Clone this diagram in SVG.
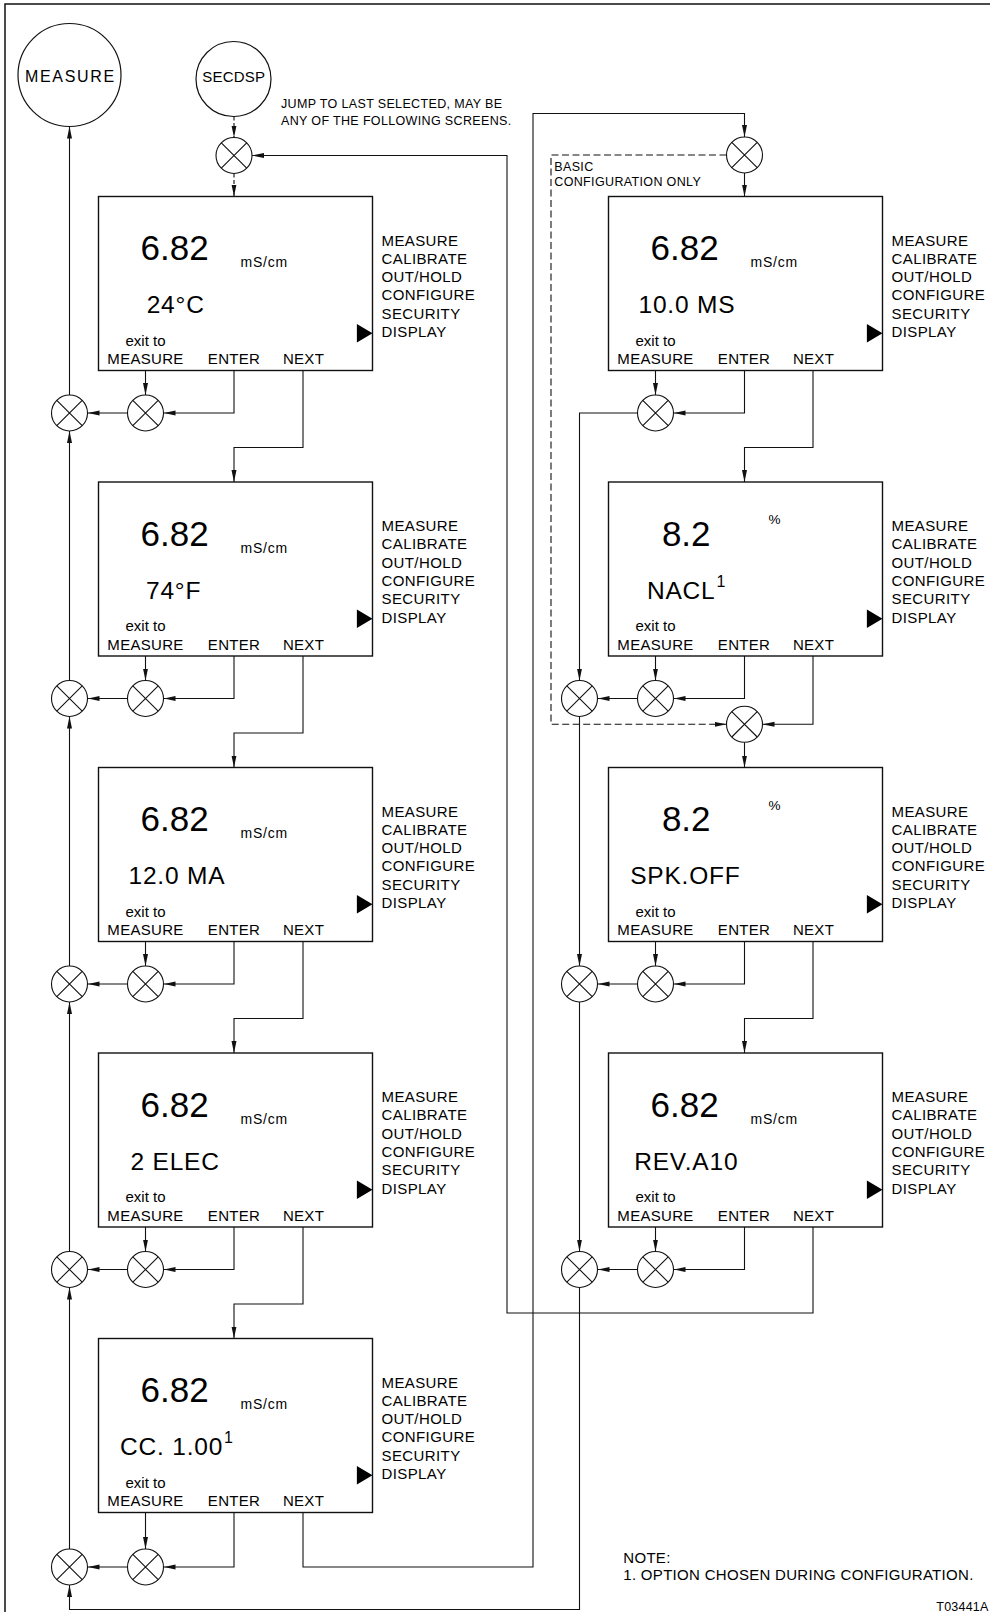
<svg xmlns="http://www.w3.org/2000/svg" width="990" height="1612" viewBox="0 0 990 1612">
<defs>
<style>
text{font-family:"Liberation Sans",Arial,sans-serif;fill:#000}
.frame{fill:none;stroke:#111;stroke-width:1.5}
.bx{fill:#fff;stroke:#111;stroke-width:1.4}
.cn{fill:none;stroke:#111;stroke-width:1.1}
.ds{stroke-dasharray:4 2.5}
.dl{stroke-dasharray:7 3.5}
.xc circle{fill:#fff;stroke:#111;stroke-width:1.1}
.xc path{fill:none;stroke:#111;stroke-width:1.1}
.tc circle{fill:#fff;stroke:#111;stroke-width:1.2}
.tri{fill:#000}
.big{font-size:35px}
.unit{font-size:14px;letter-spacing:0.8px}
.pct{font-size:13.5px}
.sec{font-size:24.5px;letter-spacing:0.8px}
.sup{font-size:16px}
.exit{font-size:15px;text-anchor:middle}
.lbl{font-size:15px;letter-spacing:0.3px;text-anchor:middle}
.menu{font-size:15px;letter-spacing:0.4px}
.note{font-size:12.5px;letter-spacing:0.35px}
.nt{font-size:15px;letter-spacing:0.3px}
.circ{font-size:15px;text-anchor:middle}
</style>
<marker id="ah" viewBox="0 0 12 6" markerWidth="12" markerHeight="6" refX="12" refY="3" orient="auto" markerUnits="userSpaceOnUse"><path d="M0,0.5L12,3L0,5.5z" fill="#111"/></marker>
</defs>
<rect width="990" height="1612" fill="#fff"/>
<path class="frame" d="M5,1612V4H990"/>

<g id="connectors">
<path class="cn ds" d="M234,116.5V137.5" marker-end="url(#ah)"/>
<path class="cn ds" d="M234,173.5V196.5" marker-end="url(#ah)"/>
<path class="cn" d="M69.5,395V126.5" marker-end="url(#ah)"/>
<path class="cn" d="M69.5,680.5V431" marker-end="url(#ah)"/>
<path class="cn" d="M69.5,966V716.5" marker-end="url(#ah)"/>
<path class="cn" d="M69.5,1251.5V1002" marker-end="url(#ah)"/>
<path class="cn" d="M69.5,1549V1287.5" marker-end="url(#ah)"/>
<path class="cn" d="M145.5,370.5V395" marker-end="url(#ah)"/>
<path class="cn" d="M234,370.5V413H163.5" marker-end="url(#ah)"/>
<path class="cn" d="M127.5,413H87.5" marker-end="url(#ah)"/>
<path class="cn" d="M145.5,656V680.5" marker-end="url(#ah)"/>
<path class="cn" d="M234,656V698.5H163.5" marker-end="url(#ah)"/>
<path class="cn" d="M127.5,698.5H87.5" marker-end="url(#ah)"/>
<path class="cn" d="M145.5,941.5V966" marker-end="url(#ah)"/>
<path class="cn" d="M234,941.5V984H163.5" marker-end="url(#ah)"/>
<path class="cn" d="M127.5,984H87.5" marker-end="url(#ah)"/>
<path class="cn" d="M145.5,1227V1251.5" marker-end="url(#ah)"/>
<path class="cn" d="M234,1227V1269.5H163.5" marker-end="url(#ah)"/>
<path class="cn" d="M127.5,1269.5H87.5" marker-end="url(#ah)"/>
<path class="cn" d="M145.5,1512.5V1549" marker-end="url(#ah)"/>
<path class="cn" d="M234,1512.5V1567H163.5" marker-end="url(#ah)"/>
<path class="cn" d="M127.5,1567H87.5" marker-end="url(#ah)"/>
<path class="cn" d="M303,370.5V447.5H234V482" marker-end="url(#ah)"/>
<path class="cn" d="M303,656V733H234V767.5" marker-end="url(#ah)"/>
<path class="cn" d="M303,941.5V1018.5H234V1053" marker-end="url(#ah)"/>
<path class="cn" d="M303,1227V1304H234V1338.5" marker-end="url(#ah)"/>
<path class="cn" d="M303,1512.5V1567H533V113.5H744.5V137" marker-end="url(#ah)"/>
<path class="cn" d="M744.5,173V196.5" marker-end="url(#ah)"/>
<path class="cn dl" d="M726.5,155H551V724.3H726.5" marker-end="url(#ah)"/>
<path class="cn" d="M655.5,370.5V395" marker-end="url(#ah)"/>
<path class="cn" d="M744.5,370.5V413H673.5" marker-end="url(#ah)"/>
<path class="cn" d="M637.5,413H579.5V680.5" marker-end="url(#ah)"/>
<path class="cn" d="M813,370.5V447.5H744.5V482" marker-end="url(#ah)"/>
<path class="cn" d="M655.5,656V680.5" marker-end="url(#ah)"/>
<path class="cn" d="M744.5,656V698.5H673.5" marker-end="url(#ah)"/>
<path class="cn" d="M637.5,698.5H597.5" marker-end="url(#ah)"/>
<path class="cn" d="M813,656V724.3H762.5" marker-end="url(#ah)"/>
<path class="cn" d="M744.5,742.3V767.5" marker-end="url(#ah)"/>
<path class="cn" d="M655.5,941.5V966" marker-end="url(#ah)"/>
<path class="cn" d="M744.5,941.5V984H673.5" marker-end="url(#ah)"/>
<path class="cn" d="M637.5,984H597.5" marker-end="url(#ah)"/>
<path class="cn" d="M813,941.5V1018.5H744.5V1053" marker-end="url(#ah)"/>
<path class="cn" d="M655.5,1227V1251.5" marker-end="url(#ah)"/>
<path class="cn" d="M744.5,1227V1269.5H673.5" marker-end="url(#ah)"/>
<path class="cn" d="M637.5,1269.5H597.5" marker-end="url(#ah)"/>
<path class="cn" d="M813,1227V1313H507V155.5H252" marker-end="url(#ah)"/>
<path class="cn" d="M579.5,716.5V966" marker-end="url(#ah)"/>
<path class="cn" d="M579.5,1002V1251.5" marker-end="url(#ah)"/>
<path class="cn" d="M579.5,1287.5V1609.5H69.5V1585" marker-end="url(#ah)"/>
</g>

<g id="measure" class="tc"><circle cx="69.5" cy="75" r="51.5"/><text class="circ" x="70.4" y="81.7" style="font-size:16px;letter-spacing:1.7px">MEASURE</text></g>
<g id="secdsp" class="tc"><circle cx="233.5" cy="79" r="37.5"/><text class="circ" x="233.8" y="81.7" style="letter-spacing:0.2px">SECDSP</text></g>

<text class="note" x="281" y="108">JUMP TO LAST SELECTED, MAY BE</text>
<text class="note" x="281" y="124.5">ANY OF THE FOLLOWING SCREENS.</text>
<text class="note" x="554.3" y="170.7">BASIC</text>
<text class="note" x="554.3" y="185.7">CONFIGURATION ONLY</text>

<g id="x-top-left" class="xc" transform="translate(234,155.5)"><circle r="18"/><path d="M-12.7-12.7L12.7 12.7M-12.7 12.7L12.7-12.7"/></g>
<g id="x-top-right" class="xc" transform="translate(744.5,155)"><circle r="18"/><path d="M-12.7-12.7L12.7 12.7M-12.7 12.7L12.7-12.7"/></g>
<g id="x-L1-exit" class="xc" transform="translate(69.5,413)"><circle r="18"/><path d="M-12.7-12.7L12.7 12.7M-12.7 12.7L12.7-12.7"/></g>
<g id="x-L1-meas" class="xc" transform="translate(145.5,413)"><circle r="18"/><path d="M-12.7-12.7L12.7 12.7M-12.7 12.7L12.7-12.7"/></g>
<g id="x-L2-exit" class="xc" transform="translate(69.5,698.5)"><circle r="18"/><path d="M-12.7-12.7L12.7 12.7M-12.7 12.7L12.7-12.7"/></g>
<g id="x-L2-meas" class="xc" transform="translate(145.5,698.5)"><circle r="18"/><path d="M-12.7-12.7L12.7 12.7M-12.7 12.7L12.7-12.7"/></g>
<g id="x-L3-exit" class="xc" transform="translate(69.5,984)"><circle r="18"/><path d="M-12.7-12.7L12.7 12.7M-12.7 12.7L12.7-12.7"/></g>
<g id="x-L3-meas" class="xc" transform="translate(145.5,984)"><circle r="18"/><path d="M-12.7-12.7L12.7 12.7M-12.7 12.7L12.7-12.7"/></g>
<g id="x-L4-exit" class="xc" transform="translate(69.5,1269.5)"><circle r="18"/><path d="M-12.7-12.7L12.7 12.7M-12.7 12.7L12.7-12.7"/></g>
<g id="x-L4-meas" class="xc" transform="translate(145.5,1269.5)"><circle r="18"/><path d="M-12.7-12.7L12.7 12.7M-12.7 12.7L12.7-12.7"/></g>
<g id="x-L5-exit" class="xc" transform="translate(69.5,1567)"><circle r="18"/><path d="M-12.7-12.7L12.7 12.7M-12.7 12.7L12.7-12.7"/></g>
<g id="x-L5-meas" class="xc" transform="translate(145.5,1567)"><circle r="18"/><path d="M-12.7-12.7L12.7 12.7M-12.7 12.7L12.7-12.7"/></g>
<g id="x-R1-meas" class="xc" transform="translate(655.5,413)"><circle r="18"/><path d="M-12.7-12.7L12.7 12.7M-12.7 12.7L12.7-12.7"/></g>
<g id="x-R2-exit" class="xc" transform="translate(579.5,698.5)"><circle r="18"/><path d="M-12.7-12.7L12.7 12.7M-12.7 12.7L12.7-12.7"/></g>
<g id="x-R2-meas" class="xc" transform="translate(655.5,698.5)"><circle r="18"/><path d="M-12.7-12.7L12.7 12.7M-12.7 12.7L12.7-12.7"/></g>
<g id="x-R2-next" class="xc" transform="translate(744.5,724.3)"><circle r="18"/><path d="M-12.7-12.7L12.7 12.7M-12.7 12.7L12.7-12.7"/></g>
<g id="x-R3-exit" class="xc" transform="translate(579.5,984)"><circle r="18"/><path d="M-12.7-12.7L12.7 12.7M-12.7 12.7L12.7-12.7"/></g>
<g id="x-R3-meas" class="xc" transform="translate(655.5,984)"><circle r="18"/><path d="M-12.7-12.7L12.7 12.7M-12.7 12.7L12.7-12.7"/></g>
<g id="x-R4-exit" class="xc" transform="translate(579.5,1269.5)"><circle r="18"/><path d="M-12.7-12.7L12.7 12.7M-12.7 12.7L12.7-12.7"/></g>
<g id="x-R4-meas" class="xc" transform="translate(655.5,1269.5)"><circle r="18"/><path d="M-12.7-12.7L12.7 12.7M-12.7 12.7L12.7-12.7"/></g>

<g id="screen-temp-c" transform="translate(98.5,196.5)">
<rect class="bx" width="274" height="174"/>
<text class="big" x="42" y="63.5">6.82</text><text class="unit" x="142" y="70.6">mS/cm</text>
<text class="sec" x="48.2" y="116.7">24°C</text>
<text class="exit" x="47" y="149">exit to</text>
<text class="lbl" x="47" y="167.5">MEASURE</text><text class="lbl" x="135.5" y="167.5">ENTER</text><text class="lbl" x="205" y="167.5">NEXT</text>
<text class="menu" y="49"><tspan x="283">MEASURE</tspan><tspan x="283" dy="18.3">CALIBRATE</tspan><tspan x="283" dy="18.3">OUT/HOLD</tspan><tspan x="283" dy="18.3">CONFIGURE</tspan><tspan x="283" dy="18.3">SECURITY</tspan><tspan x="283" dy="18.3">DISPLAY</tspan></text>
<polygon class="tri" points="258.4,127.5 274,136.7 258.4,145.9"/>
</g>
<g id="screen-temp-f" transform="translate(98.5,482)">
<rect class="bx" width="274" height="174"/>
<text class="big" x="42" y="63.5">6.82</text><text class="unit" x="142" y="70.6">mS/cm</text>
<text class="sec" x="47.5" y="116.7">74°F</text>
<text class="exit" x="47" y="149">exit to</text>
<text class="lbl" x="47" y="167.5">MEASURE</text><text class="lbl" x="135.5" y="167.5">ENTER</text><text class="lbl" x="205" y="167.5">NEXT</text>
<text class="menu" y="49"><tspan x="283">MEASURE</tspan><tspan x="283" dy="18.3">CALIBRATE</tspan><tspan x="283" dy="18.3">OUT/HOLD</tspan><tspan x="283" dy="18.3">CONFIGURE</tspan><tspan x="283" dy="18.3">SECURITY</tspan><tspan x="283" dy="18.3">DISPLAY</tspan></text>
<polygon class="tri" points="258.4,127.5 274,136.7 258.4,145.9"/>
</g>
<g id="screen-ma" transform="translate(98.5,767.5)">
<rect class="bx" width="274" height="174"/>
<text class="big" x="42" y="63.5">6.82</text><text class="unit" x="142" y="70.6">mS/cm</text>
<text class="sec" x="30" y="116.7">12.0 MA</text>
<text class="exit" x="47" y="149">exit to</text>
<text class="lbl" x="47" y="167.5">MEASURE</text><text class="lbl" x="135.5" y="167.5">ENTER</text><text class="lbl" x="205" y="167.5">NEXT</text>
<text class="menu" y="49"><tspan x="283">MEASURE</tspan><tspan x="283" dy="18.3">CALIBRATE</tspan><tspan x="283" dy="18.3">OUT/HOLD</tspan><tspan x="283" dy="18.3">CONFIGURE</tspan><tspan x="283" dy="18.3">SECURITY</tspan><tspan x="283" dy="18.3">DISPLAY</tspan></text>
<polygon class="tri" points="258.4,127.5 274,136.7 258.4,145.9"/>
</g>
<g id="screen-elec" transform="translate(98.5,1053)">
<rect class="bx" width="274" height="174"/>
<text class="big" x="42" y="63.5">6.82</text><text class="unit" x="142" y="70.6">mS/cm</text>
<text class="sec" x="32" y="116.7">2 ELEC</text>
<text class="exit" x="47" y="149">exit to</text>
<text class="lbl" x="47" y="167.5">MEASURE</text><text class="lbl" x="135.5" y="167.5">ENTER</text><text class="lbl" x="205" y="167.5">NEXT</text>
<text class="menu" y="49"><tspan x="283">MEASURE</tspan><tspan x="283" dy="18.3">CALIBRATE</tspan><tspan x="283" dy="18.3">OUT/HOLD</tspan><tspan x="283" dy="18.3">CONFIGURE</tspan><tspan x="283" dy="18.3">SECURITY</tspan><tspan x="283" dy="18.3">DISPLAY</tspan></text>
<polygon class="tri" points="258.4,127.5 274,136.7 258.4,145.9"/>
</g>
<g id="screen-cc" transform="translate(98.5,1338.5)">
<rect class="bx" width="274" height="174"/>
<text class="big" x="42" y="63.5">6.82</text><text class="unit" x="142" y="70.6">mS/cm</text>
<text class="sec" x="21.5" y="116.7">CC. 1.00<tspan class="sup" dx="1" dy="-12">1</tspan></text>
<text class="exit" x="47" y="149">exit to</text>
<text class="lbl" x="47" y="167.5">MEASURE</text><text class="lbl" x="135.5" y="167.5">ENTER</text><text class="lbl" x="205" y="167.5">NEXT</text>
<text class="menu" y="49"><tspan x="283">MEASURE</tspan><tspan x="283" dy="18.3">CALIBRATE</tspan><tspan x="283" dy="18.3">OUT/HOLD</tspan><tspan x="283" dy="18.3">CONFIGURE</tspan><tspan x="283" dy="18.3">SECURITY</tspan><tspan x="283" dy="18.3">DISPLAY</tspan></text>
<polygon class="tri" points="258.4,127.5 274,136.7 258.4,145.9"/>
</g>

<g id="screen-ms" transform="translate(608.5,196.5)">
<rect class="bx" width="274" height="174"/>
<text class="big" x="42" y="63.5">6.82</text><text class="unit" x="142" y="70.6">mS/cm</text>
<text class="sec" x="30" y="116.7">10.0 MS</text>
<text class="exit" x="47" y="149">exit to</text>
<text class="lbl" x="47" y="167.5">MEASURE</text><text class="lbl" x="135.5" y="167.5">ENTER</text><text class="lbl" x="205" y="167.5">NEXT</text>
<text class="menu" y="49"><tspan x="283">MEASURE</tspan><tspan x="283" dy="18.3">CALIBRATE</tspan><tspan x="283" dy="18.3">OUT/HOLD</tspan><tspan x="283" dy="18.3">CONFIGURE</tspan><tspan x="283" dy="18.3">SECURITY</tspan><tspan x="283" dy="18.3">DISPLAY</tspan></text>
<polygon class="tri" points="258.4,127.5 274,136.7 258.4,145.9"/>
</g>
<g id="screen-nacl" transform="translate(608.5,482)">
<rect class="bx" width="274" height="174"/>
<text class="big" x="53.4" y="63.5">8.2</text><text class="pct" x="160" y="42">%</text>
<text class="sec" x="38.4" y="116.7">NACL<tspan class="sup" dx="1" dy="-12">1</tspan></text>
<text class="exit" x="47" y="149">exit to</text>
<text class="lbl" x="47" y="167.5">MEASURE</text><text class="lbl" x="135.5" y="167.5">ENTER</text><text class="lbl" x="205" y="167.5">NEXT</text>
<text class="menu" y="49"><tspan x="283">MEASURE</tspan><tspan x="283" dy="18.3">CALIBRATE</tspan><tspan x="283" dy="18.3">OUT/HOLD</tspan><tspan x="283" dy="18.3">CONFIGURE</tspan><tspan x="283" dy="18.3">SECURITY</tspan><tspan x="283" dy="18.3">DISPLAY</tspan></text>
<polygon class="tri" points="258.4,127.5 274,136.7 258.4,145.9"/>
</g>
<g id="screen-spk" transform="translate(608.5,767.5)">
<rect class="bx" width="274" height="174"/>
<text class="big" x="53.4" y="63.5">8.2</text><text class="pct" x="160" y="42">%</text>
<text class="sec" x="21.7" y="116.7">SPK.OFF</text>
<text class="exit" x="47" y="149">exit to</text>
<text class="lbl" x="47" y="167.5">MEASURE</text><text class="lbl" x="135.5" y="167.5">ENTER</text><text class="lbl" x="205" y="167.5">NEXT</text>
<text class="menu" y="49"><tspan x="283">MEASURE</tspan><tspan x="283" dy="18.3">CALIBRATE</tspan><tspan x="283" dy="18.3">OUT/HOLD</tspan><tspan x="283" dy="18.3">CONFIGURE</tspan><tspan x="283" dy="18.3">SECURITY</tspan><tspan x="283" dy="18.3">DISPLAY</tspan></text>
<polygon class="tri" points="258.4,127.5 274,136.7 258.4,145.9"/>
</g>
<g id="screen-rev" transform="translate(608.5,1053)">
<rect class="bx" width="274" height="174"/>
<text class="big" x="42" y="63.5">6.82</text><text class="unit" x="142" y="70.6">mS/cm</text>
<text class="sec" x="25.7" y="116.7">REV.A10</text>
<text class="exit" x="47" y="149">exit to</text>
<text class="lbl" x="47" y="167.5">MEASURE</text><text class="lbl" x="135.5" y="167.5">ENTER</text><text class="lbl" x="205" y="167.5">NEXT</text>
<text class="menu" y="49"><tspan x="283">MEASURE</tspan><tspan x="283" dy="18.3">CALIBRATE</tspan><tspan x="283" dy="18.3">OUT/HOLD</tspan><tspan x="283" dy="18.3">CONFIGURE</tspan><tspan x="283" dy="18.3">SECURITY</tspan><tspan x="283" dy="18.3">DISPLAY</tspan></text>
<polygon class="tri" points="258.4,127.5 274,136.7 258.4,145.9"/>
</g>

<g id="note">
<text class="nt" x="623.3" y="1562.7">NOTE:</text>
<text class="nt" x="623.3" y="1580">1. OPTION CHOSEN DURING CONFIGURATION.</text>
<text class="note" x="988.5" y="1610.5" style="text-anchor:end;letter-spacing:0.2px">T03441A</text>
</g>
</svg>
